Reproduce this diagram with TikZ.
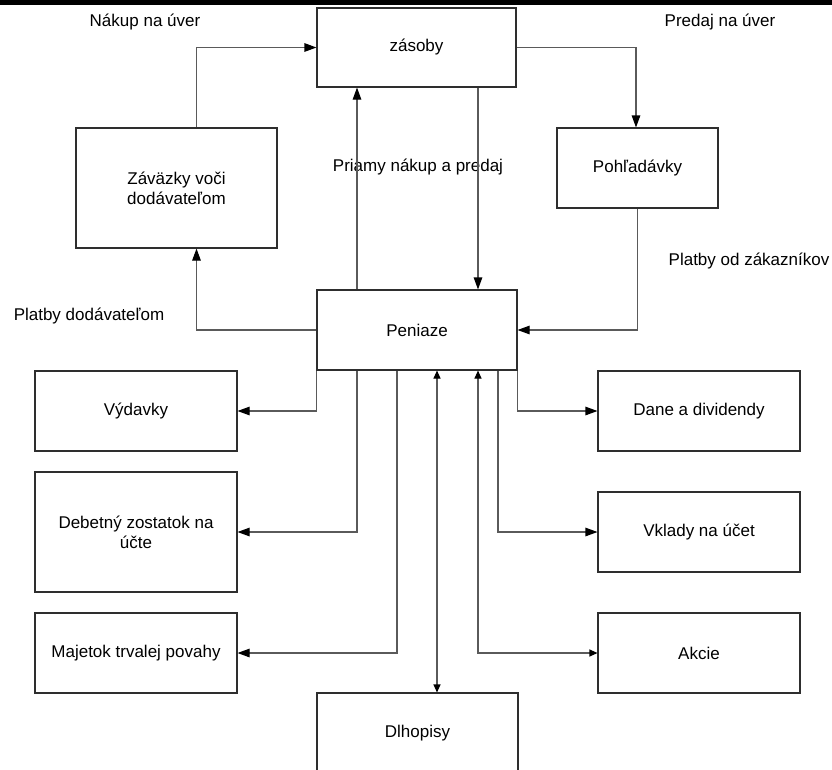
\documentclass[tikz,border=0pt]{standalone}
\usepackage{fontspec}
\setmainfont{Liberation Sans}
\usetikzlibrary{arrows.meta}
\definecolor{edge}{HTML}{2E2E2E}
\definecolor{wire}{HTML}{5A5A5A}
\begin{document}
\begin{tikzpicture}[x=1pt,y=-1pt,
  every node/.style={font=\fontsize{17}{20}\selectfont},
  box/.style={draw=edge, line width=1.1pt, fill=white, rectangle, inner sep=0pt, align=center},
  lbl/.style={inner sep=0pt},
  flow/.style={draw=wire, line width=1.1pt, -{Triangle[length=12pt,width=8.5pt,color=black]}},
  twoway/.style={draw=wire, line width=1.1pt, {Triangle[length=8pt,width=7pt,color=black]}-{Triangle[length=8pt,width=7pt,color=black]}}]
  \clip (0,0) rectangle (832,769);
  \fill[white] (0,0) rectangle (832,769);
  \fill[black] (0,0) rectangle (832,5);

  % top part
  \node[box, minimum width=199pt, minimum height=79pt] (zas) at (416.5,47.5) {zásoby};
  \node[box, minimum width=201pt, minimum height=120pt] (zav) at (176.5,188) {Záväzky voči\\dodávateľom};
  \node[box, minimum width=161pt, minimum height=80pt] (poh) at (637.5,168) {Pohľadávky};
  \node[box, minimum width=200pt, minimum height=80pt] (pen) at (417,330) {Peniaze};

  % left column
  \node[box, minimum width=202pt, minimum height=80pt] (vyd) at (136,411) {Výdavky};
  \node[box, minimum width=202pt, minimum height=120pt] (deb) at (136,532) {Debetný zostatok na\\účte};
  \node[box, minimum width=202pt, minimum height=80pt] (maj) at (136,653) {Majetok trvalej povahy};

  % right column
  \node[box, minimum width=202pt, minimum height=80pt] (dane) at (699,411) {Dane a dividendy};
  \node[box, minimum width=202pt, minimum height=80pt] (vkl) at (699,532) {Vklady na účet};
  \node[box, minimum width=202pt, minimum height=80pt] (akc) at (699,653) {Akcie};

  % bottom
  \node[box, minimum width=201pt, minimum height=80pt] (dlh) at (417.5,733) {Dlhopisy};

  % labels
  \node[lbl] (l1) at (145,22) {Nákup na úver};
  \node[lbl] (l2) at (720,22) {Predaj na úver};
  \node[lbl] (l3) at (418,167) {Priamy nákup a predaj};
  \node[lbl] (l4) at (749,261) {Platby od zákazníkov};
  \node[lbl] (l5) at (89,316) {Platby dodávateľom};

  % cycle around the inventory
  \draw[flow] ([xshift=20pt]zav.north) |- (zas.west);
  \draw[flow] (zas.east) -| ([xshift=-1.5pt]poh.north);
  \draw[flow] ([xshift=-60pt]pen.north) -- ([xshift=-60pt]pen.north |- zas.south);
  \draw[flow] ([xshift=61.5pt]zas.south) -- ([xshift=61.5pt]zas.south |- pen.north);
  \draw[flow] (poh.south) |- (pen.east);
  \draw[flow] (pen.west) -| ([xshift=20pt]zav.south);

  % outflows and inflows of cash
  \draw[flow] (pen.south west) |- (vyd.east);
  \draw[flow] ([xshift=-60pt]pen.south) |- (deb.east);
  \draw[flow] ([xshift=-20pt]pen.south) |- (maj.east);
  \draw[twoway] ([xshift=20pt]pen.south) -- ([xshift=20pt]pen.south |- dlh.north);
  \draw[twoway] ([xshift=61pt]pen.south) |- (akc.west);
  \draw[flow] ([xshift=81pt]pen.south) |- (vkl.west);
  \draw[flow] (pen.south east) |- (dane.west);
\end{tikzpicture}
\end{document}
